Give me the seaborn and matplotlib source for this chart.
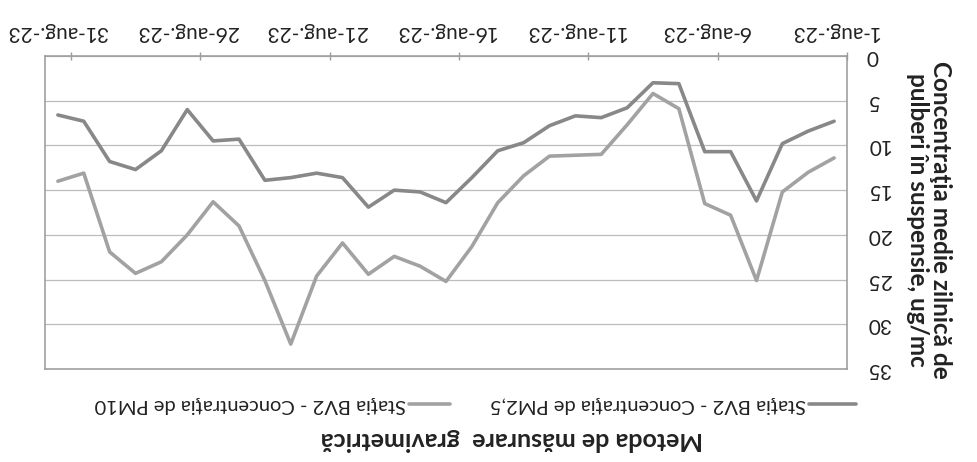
import numpy as np
import pandas as pd
import matplotlib
matplotlib.use('Agg')
import matplotlib.pyplot as plt
import seaborn as sns
from matplotlib.lines import Line2D

# date (1..31 august 2023)
zile = list(range(1, 32))
pm25 = [7.3, 8.4, 9.8, 16.2, 10.7, 10.7, 3.1, 3.0, 5.8, 6.9,
        6.7, 7.8, 9.7, 10.6, 13.6, 16.4, 15.2, 15.0, 16.9, 13.6,
        13.1, 13.6, 13.9, 9.3, 9.5, 6.0, 10.6, 12.7, 11.8, 7.3, 6.6]
pm10 = [11.4, 13.0, 15.2, 25.1, 17.8, 16.5, 5.9, 4.2, 7.7, 11.0,
        11.1, 11.2, 13.4, 16.4, 21.3, 25.2, 23.5, 22.4, 24.4, 20.9,
        24.6, 32.2, 25.1, 19.0, 16.3, 20.0, 23.0, 24.3, 21.9, 13.1, 14.0]

zile_etichete = [1, 6, 11, 16, 21, 26, 31]
etichete_x = ['1-aug.-23', '6-aug.-23', '11-aug.-23', '16-aug.-23',
              '21-aug.-23', '26-aug.-23', '31-aug.-23']
valori_y = [0, 5, 10, 15, 20, 25, 30, 35]
serii = ['Staţia BV2 - Concentraţia de PM2,5', 'Staţia BV2 - Concentraţia de PM10']
culori = ['#888888', '#a2a2a2']

sns.set_theme(style='white')
plt.rcParams['font.family'] = ['Lato', 'DejaVu Sans']

df = pd.DataFrame({
    'zi': zile * 2,
    'conc': pm25 + pm10,
    'serie': [serii[0]] * len(zile) + [serii[1]] * len(zile),
})

fig = plt.figure(figsize=(9.77, 4.62), dpi=100)
ax = fig.add_axes([0.046, 0.201, 0.821, 0.678])

sns.lineplot(data=df, x='zi', y='conc', hue='serie',
             palette=dict(zip(serii, culori)), linewidth=2.6,
             legend=False, ax=ax)

# graficul este scanat intors cu 180 de grade
ax.set_xlim(31.5, 0.5)
ax.set_ylim(35, 0)
ax.set_xticks(zile_etichete)
ax.set_xticklabels(etichete_x)
ax.set_xticks(np.arange(0.5, 32, 5), minor=True)
ax.set_yticks(valori_y)
ax.xaxis.tick_top()
ax.yaxis.tick_right()
ax.tick_params(axis='x', which='major', labelrotation=180, length=0, pad=10,
               labelsize=15, labelcolor='#222222')
ax.tick_params(axis='x', which='minor', top=True, bottom=False,
               direction='inout', length=6, width=1, color='#9a9a9a')
ax.tick_params(axis='y', labelrotation=180, length=0, pad=14,
               labelsize=15, labelcolor='#222222')
for lbl in ax.get_yticklabels():
    lbl.set_verticalalignment('center')
ax.set_xlabel('')
ax.set_ylabel('')

ax.grid(axis='y', color='#bcbcbc', linewidth=0.9)
ax.set_axisbelow(True)
for s in ax.spines.values():
    s.set_color('#999999')
    s.set_linewidth(1.1)

# eticheta axei Y (dreapta, intoarsa)
fig.text(929 / 977, 1 - 220 / 462,
         'Concentraţia medie zilnică de\npulberi în suspensie, ug/mc',
         rotation=270, ha='center', va='center', fontsize=17.5,
         fontweight='bold', linespacing=1.05, color='#222222')

# legenda construita manual, intoarsa
y_leg = 1 - 404 / 462
leg = [(serii[1], culori[1], 406, 409, 450),
       (serii[0], culori[0], 806, 809, 856)]
for text, col, xt, x0, x1 in leg:
    fig.text(xt / 977, y_leg, text, rotation=180, ha='right', va='center',
             fontsize=14.5, color='#222222')
    fig.add_artist(Line2D([x0 / 977, x1 / 977], [y_leg, y_leg],
                          transform=fig.transFigure, color=col, linewidth=2.6))

# titlu
fig.text(512 / 977, 1 - 440 / 462, 'Metoda de măsurare  gravimetrică',
         rotation=180, ha='center', va='center', fontsize=18,
         fontweight='bold', color='#222222')

fig.savefig('out.png', dpi=100, facecolor='white')
